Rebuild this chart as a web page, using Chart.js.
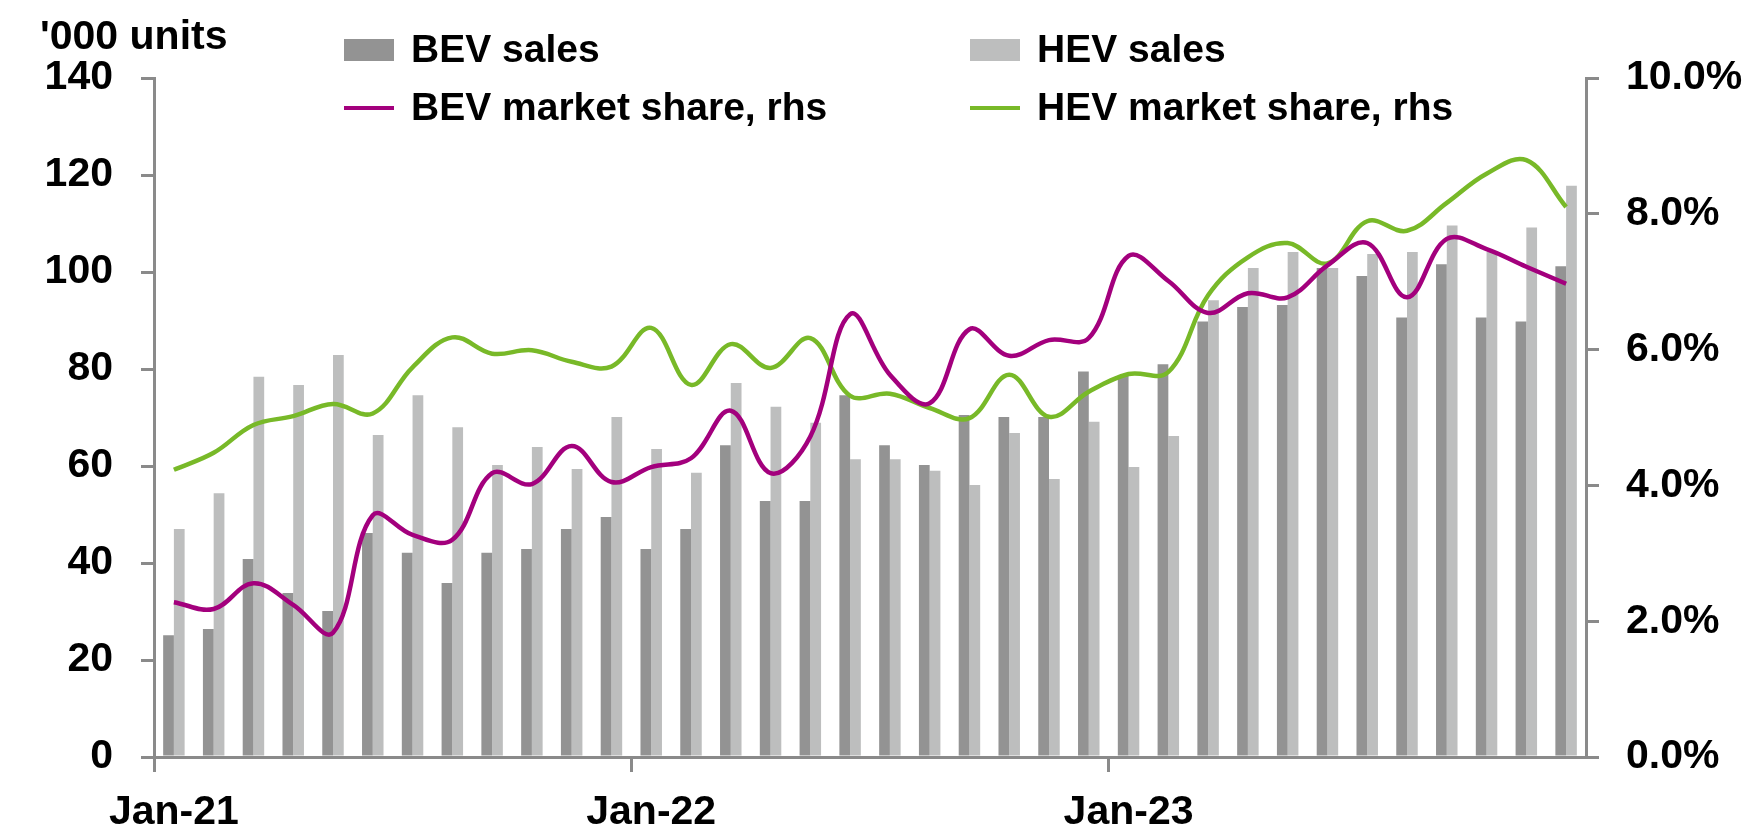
<!DOCTYPE html>
<html>
<head>
<meta charset="utf-8">
<title>BEV and HEV sales</title>
<script src="https://cdn.jsdelivr.net/npm/chart.js@4/dist/chart.umd.min.js"></script>
<style>
  html, body { margin: 0; padding: 0; background: #fff; }
  #wrap { width: 1753px; height: 830px; }
</style>
</head>
<body>
<div id="wrap"><canvas id="chart-ev" width="1753" height="830"></canvas></div>
<script>
// monthly categories, Jan-21 .. Dec-23
const MONTHS = [
  'Jan-21', 'Feb-21', 'Mar-21', 'Apr-21', 'May-21', 'Jun-21', 'Jul-21', 'Aug-21', 'Sep-21', 'Oct-21', 'Nov-21', 'Dec-21',
  'Jan-22', 'Feb-22', 'Mar-22', 'Apr-22', 'May-22', 'Jun-22', 'Jul-22', 'Aug-22', 'Sep-22', 'Oct-22', 'Nov-22', 'Dec-22',
  'Jan-23', 'Feb-23', 'Mar-23', 'Apr-23', 'May-23', 'Jun-23', 'Jul-23', 'Aug-23', 'Sep-23', 'Oct-23', 'Nov-23', 'Dec-23'
];

// '000 units
const BEV_SALES = [
  25.1, 26.4, 40.8, 33.8, 30.1, 46.2, 42.1, 35.9, 42.1, 42.9, 47.0, 49.5,
  42.9, 47.0, 64.3, 52.8, 52.8, 74.6, 64.3, 60.2, 70.5, 70.1, 70.1, 79.5,
  78.6, 81.0, 89.8, 92.8, 93.2, 100.8, 99.2, 90.6, 101.6, 90.6, 89.8, 101.2
];
const HEV_SALES = [
  47.0, 54.4, 78.4, 76.7, 82.9, 66.4, 74.6, 68.0, 60.2, 63.9, 59.4, 70.1,
  63.5, 58.6, 77.1, 72.2, 68.9, 61.4, 61.4, 59.0, 56.1, 66.8, 57.3, 69.1,
  59.8, 66.2, 94.2, 100.8, 104.1, 100.8, 103.7, 104.1, 109.6, 104.1, 109.2, 117.8
];

// market share, % (rhs)
const BEV_SHARE = [
  2.28, 2.18, 2.56, 2.24, 1.83, 3.56, 3.27, 3.20, 4.18, 4.02, 4.58, 4.05,
  4.27, 4.40, 5.10, 4.18, 4.72, 6.52, 5.63, 5.21, 6.30, 5.91, 6.14, 6.17,
  7.38, 7.01, 6.54, 6.83, 6.77, 7.24, 7.57, 6.77, 7.63, 7.48, 7.22, 6.97
];
const HEV_SHARE = [
  4.23, 4.48, 4.89, 5.02, 5.20, 5.06, 5.74, 6.18, 5.94, 5.99, 5.82, 5.75,
  6.32, 5.48, 6.08, 5.73, 6.17, 5.32, 5.35, 5.14, 4.99, 5.63, 5.01, 5.38,
  5.64, 5.67, 6.80, 7.36, 7.57, 7.27, 7.89, 7.75, 8.16, 8.59, 8.79, 8.10
];

const LEFT_TICKS = [0, 20, 40, 60, 80, 100, 120, 140];
const RIGHT_TICKS = [0, 2, 4, 6, 8, 10];
const UNITS_LABEL = "'000 units";

const COLORS = {
  bev: '#939393',
  hev: '#bdbebe',
  bevShare: '#a3007d',
  hevShare: '#78b928',
  axis: '#8a8a8a',
  text: '#000000'
};

const FONT_FAMILY = '"Liberation Sans", Arial, sans-serif';
const FONT = { family: FONT_FAMILY, size: 41, weight: 'bold', lineHeight: 1.2 };
const LEGEND_SIZE = 39;

// legend laid out as a 2x2 grid, plus the units caption over the left axis
const legendPlugin = {
  id: 'gridLegend',
  afterDraw(chart, args, opts) {
    const { ctx } = chart;
    const byKey = {};
    chart.data.datasets.forEach((d) => { byKey[d.key] = d; });
    ctx.save();
    ctx.font = `bold ${FONT.size}px ${FONT_FAMILY}`;
    ctx.fillStyle = COLORS.text;
    ctx.textBaseline = 'middle';
    ctx.textAlign = 'left';
    ctx.fillText(opts.units, 40, 38);

    ctx.font = `bold ${LEGEND_SIZE}px ${FONT_FAMILY}`;
    const cols = [344, 970];
    const rows = [50, 108];
    const cells = [
      { d: byKey.bev, col: 0, row: 0 },
      { d: byKey.hev, col: 1, row: 0 },
      { d: byKey.bevShare, col: 0, row: 1 },
      { d: byKey.hevShare, col: 1, row: 1 }
    ];
    cells.forEach(({ d, col, row }) => {
      if (!d) return;
      const x = cols[col];
      const y = rows[row];
      if (d.type === 'bar') {
        ctx.fillStyle = d.backgroundColor;
        ctx.fillRect(x, y - 11, 50, 22);
      } else {
        ctx.strokeStyle = d.borderColor;
        ctx.lineWidth = 4;
        ctx.beginPath();
        ctx.moveTo(x, y);
        ctx.lineTo(x + 50, y);
        ctx.stroke();
      }
      ctx.fillStyle = COLORS.text;
      ctx.fillText(d.label, x + 67, y + 1);
    });
    ctx.restore();
  }
};

function axisGrid(tickLength) {
  return {
    display: true,
    drawOnChartArea: false,
    drawTicks: true,
    tickLength,
    color: COLORS.axis,
    lineWidth: 3
  };
}

function lineDataset(key, label, data, color, order) {
  return {
    key,
    type: 'line',
    label,
    data,
    yAxisID: 'y2',
    borderColor: color,
    borderWidth: 4.5,
    pointRadius: 0,
    tension: 0.38,
    fill: false,
    order
  };
}

function barDataset(key, label, data, color, order) {
  return {
    key,
    type: 'bar',
    label,
    data,
    yAxisID: 'y',
    backgroundColor: color,
    categoryPercentage: 0.54,
    barPercentage: 1.0,
    order
  };
}

function renderChart() {
  const canvas = document.getElementById('chart-ev');
  if (!canvas || typeof Chart === 'undefined') return;

  new Chart(canvas, {
    data: {
      labels: MONTHS,
      datasets: [
        lineDataset('bevShare', 'BEV market share, rhs', BEV_SHARE, COLORS.bevShare, 0),
        lineDataset('hevShare', 'HEV market share, rhs', HEV_SHARE, COLORS.hevShare, 1),
        barDataset('bev', 'BEV sales', BEV_SALES, COLORS.bev, 2),
        barDataset('hev', 'HEV sales', HEV_SALES, COLORS.hev, 3)
      ]
    },
    options: {
      responsive: false,
      animation: false,
      devicePixelRatio: 1,
      layout: { padding: { top: 78, left: 0, right: 0, bottom: 0 } },
      scales: {
        x: {
          type: 'category',
          offset: true,
          grid: {
            ...axisGrid(15),
            offset: true,
            color: (ctx) => (ctx.index % 12 === 0 ? COLORS.axis : 'rgba(0,0,0,0)')
          },
          border: { display: true, color: COLORS.axis, width: 3 },
          ticks: {
            autoSkip: false,
            maxRotation: 0,
            minRotation: 0,
            padding: 16,
            color: COLORS.text,
            font: FONT,
            callback: (value, index) => (index % 12 === 0 ? MONTHS[index] : '')
          },
          afterFit: (scale) => { scale.height = 73; }
        },
        y: {
          position: 'left',
          min: LEFT_TICKS[0],
          max: LEFT_TICKS[LEFT_TICKS.length - 1],
          grid: axisGrid(13),
          border: { display: true, color: COLORS.axis, width: 3 },
          afterBuildTicks: (scale) => { scale.ticks = LEFT_TICKS.map((v) => ({ value: v })); },
          ticks: {
            padding: 28,
            color: COLORS.text,
            font: FONT,
            callback: (value) => `${value}`
          },
          afterFit: (scale) => { scale.width = 154; }
        },
        y2: {
          position: 'right',
          min: RIGHT_TICKS[0],
          max: RIGHT_TICKS[RIGHT_TICKS.length - 1],
          grid: axisGrid(13),
          border: { display: true, color: COLORS.axis, width: 3 },
          afterBuildTicks: (scale) => { scale.ticks = RIGHT_TICKS.map((v) => ({ value: v })); },
          ticks: {
            padding: 27,
            color: COLORS.text,
            font: FONT,
            callback: (value) => `${Number(value).toFixed(1)}%`
          },
          afterFit: (scale) => { scale.width = 1753 - 1586; }
        }
      },
      plugins: {
        legend: { display: false },
        tooltip: { enabled: false },
        gridLegend: { units: UNITS_LABEL }
      }
    },
    plugins: [legendPlugin]
  });
}

renderChart();
</script>
</body>
</html>
